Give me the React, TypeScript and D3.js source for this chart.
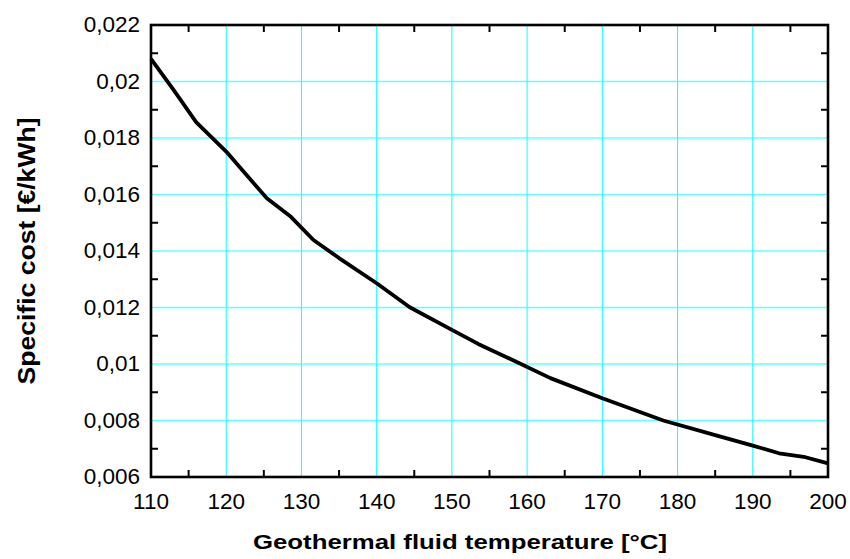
import React from "react";
import * as d3 from "d3";

const temperature = [110, 113, 116, 120, 122.5, 125.4, 128.6, 131.6, 135, 140, 144.4, 150, 153.5, 158, 163.1, 170, 178.1, 185, 190, 193.5, 197, 200];
const specificCost = [0.0208, 0.0197, 0.01856, 0.01752, 0.01675, 0.01587, 0.01521, 0.01439, 0.01375, 0.01286, 0.01201, 0.01121, 0.01071, 0.01015, 0.0095, 0.00879, 0.008, 0.00748, 0.00711, 0.00684, 0.0067, 0.00648];
const xMajorTicks = [110, 120, 130, 140, 150, 160, 170, 180, 190, 200];
const xMinorTicks = [115, 125, 135, 145, 155, 165, 175, 185, 195];
const yMajorTicks = [0.006, 0.008, 0.01, 0.012, 0.014, 0.016, 0.018, 0.02, 0.022];
const yMinorTicks = [0.007, 0.009, 0.011, 0.013, 0.015, 0.017, 0.019, 0.021];
const xTitle = "Geothermal fluid temperature [°C]";
const yTitle = "Specific cost [€/kWh]";

const fmt = (v: number) => String(+v.toFixed(3)).replace(".", ",");

export default function App() {
  const W = 850, H = 559;
  const L = 151, R = 828, T = 25, B = 477;
  const x = d3.scaleLinear().domain([110, 200]).range([L, R]);
  const y = d3.scaleLinear().domain([0.006, 0.022]).range([B, T]);
  const pts = temperature.map((t, i) => [t, specificCost[i]] as [number, number]);
  const line = d3.line<[number, number]>().x(d => x(d[0])).y(d => y(d[1]));
  const font = "'Liberation Sans', Arial, sans-serif";
  const tl = 7;
  return (
    <svg width={W} height={H} style={{ position: "absolute", left: 0, top: 0, background: "#fff" }}>
      <rect x={0} y={0} width={W} height={H} fill="#fff" />
      {yMajorTicks.slice(1, -1).map(v => (
        <line key={"gy" + v} x1={L} x2={R} y1={y(v)} y2={y(v)} stroke="#66ffff" strokeWidth={1.6} />
      ))}
      {xMajorTicks.slice(1, -1).map(v => (
        <line key={"gx" + v} x1={x(v)} x2={x(v)} y1={T} y2={B} stroke="#22ffff" strokeWidth={1.1} />
      ))}
      {xMinorTicks.map(v => (
        <g key={"tx" + v}>
          <line x1={x(v)} x2={x(v)} y1={B} y2={B - tl} stroke="#000" strokeWidth={2} />
          <line x1={x(v)} x2={x(v)} y1={T} y2={T + tl} stroke="#000" strokeWidth={2} />
        </g>
      ))}
      {yMinorTicks.map(v => (
        <g key={"ty" + v}>
          <line x1={L} x2={L + tl} y1={y(v)} y2={y(v)} stroke="#000" strokeWidth={2} />
          <line x1={R} x2={R - tl} y1={y(v)} y2={y(v)} stroke="#000" strokeWidth={2} />
        </g>
      ))}
      <path d={line(pts) || ""} fill="none" stroke="#000" strokeWidth={3.8} strokeLinejoin="round" />
      <rect x={L} y={T} width={R - L} height={B - T} fill="none" stroke="#000" strokeWidth={2.6} />
      {xMajorTicks.map(v => (
        <text key={"lx" + v} x={x(v)} y={509} textAnchor="middle" fontFamily={font} fontSize={22.5} fill="#000">{String(v)}</text>
      ))}
      {yMajorTicks.map(v => (
        <text key={"ly" + v} x={140} y={y(v) + 7} textAnchor="end" fontFamily={font} fontSize={22.5} fill="#000">{fmt(v)}</text>
      ))}
      <text x={460} y={549} textAnchor="middle" fontFamily={font} fontSize={21} fontWeight="bold" fill="#000" textLength={414} lengthAdjust="spacingAndGlyphs">{xTitle}</text>
      <text transform={`translate(35,${(T + B) / 2}) rotate(-90)`} textAnchor="middle" fontFamily={font} fontSize={24} fontWeight="bold" fill="#000" textLength={267} lengthAdjust="spacingAndGlyphs">{yTitle}</text>
    </svg>
  );
}
